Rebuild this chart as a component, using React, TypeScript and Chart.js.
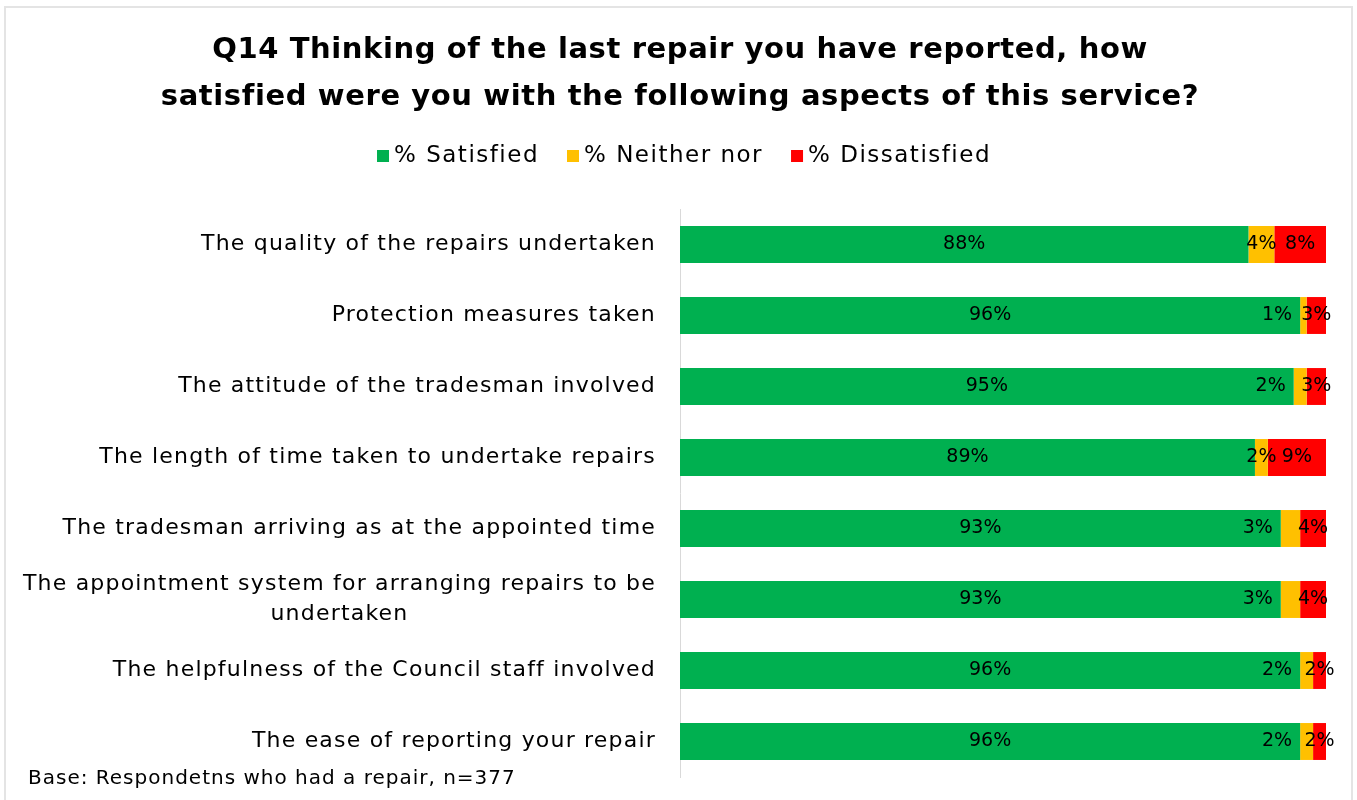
import React, { useEffect, useRef } from "react";
import { Chart, registerables } from "chart.js";

Chart.register(...registerables);

const titleLines = [
  "Q14 Thinking of the last repair you have reported, how",
  "satisfied were you with the following aspects of this service?",
];
const categories: string[][] = [
  ["The quality of the repairs undertaken"],
  ["Protection measures taken"],
  ["The attitude of the tradesman involved"],
  ["The length of time taken to undertake repairs"],
  ["The tradesman arriving as at the appointed time"],
  ["The appointment system for arranging repairs to be", "undertaken"],
  ["The helpfulness of the Council staff involved"],
  ["The ease of reporting your repair"],
];
const seriesNames = ["% Satisfied", "% Neither nor", "% Dissatisfied"];
const satisfied = [88, 96, 95, 89, 93, 93, 96, 96];
const neither = [4, 1, 2, 2, 3, 3, 2, 2];
const dissatisfied = [8, 3, 3, 9, 4, 4, 2, 2];
const colors = ["#00B050", "#FFC000", "#FF0000"];
const footnote = "Base: Respondetns who had a repair, n=377";

const FONT = "'DejaVu Sans', sans-serif";

const textPlugin = {
  id: "customText",
  afterDraw(chart: any) {
    const ctx: any = chart.ctx;
    ctx.save();
    // Title
    ctx.fillStyle = "#000";
    ctx.font = `bold 29px ${FONT}`;
    ctx.letterSpacing = "0.6px";
    ctx.textAlign = "center";
    ctx.textBaseline = "middle";
    titleLines.forEach((t, i) => ctx.fillText(t, 680, 50 + i * 47));

    // Legend
    ctx.font = `23px ${FONT}`;
    ctx.letterSpacing = "1.5px";
    const box = 12;
    const gapBox = 5;
    const gapItem = 28;
    const widths = seriesNames.map((n) => ctx.measureText(n).width);
    const total = widths.reduce((a, b) => a + b, 0) + seriesNames.length * (box + gapBox) + gapItem * (seriesNames.length - 1);
    let x = 684 - total / 2;
    const ly = 156;
    ctx.textAlign = "left";
    seriesNames.forEach((n, i) => {
      ctx.fillStyle = colors[i];
      ctx.fillRect(x, ly - box / 2, box, box);
      x += box + gapBox;
      ctx.fillStyle = "#000";
      ctx.fillText(n, x, ly);
      x += widths[i] + gapItem;
    });

    // Category labels
    const yScale = chart.scales.y;
    ctx.font = `22px ${FONT}`;
    ctx.letterSpacing = "1.2px";
    ctx.fillStyle = "#000";
    categories.forEach((lines, i) => {
      const cy = yScale.getPixelForValue(i);
      const ws = lines.map((l: string) => ctx.measureText(l).width);
      const maxW = Math.max(...ws);
      const right = chart.chartArea.left - 24;
      const lh = 30;
      lines.forEach((l, j) => {
        const y = cy + (j - (lines.length - 1) / 2) * lh;
        ctx.textAlign = "center";
        ctx.fillText(l, right - maxW / 2, y);
      });
    });

    // Footnote
    ctx.font = `20px ${FONT}`;
    ctx.letterSpacing = "1px";
    ctx.textAlign = "left";
    ctx.fillText(footnote, 28, 779);
    ctx.restore();
  },
  afterDatasetsDraw(chart: any) {
    const ctx: any = chart.ctx;
    ctx.save();
    ctx.font = `19px ${FONT}`;
    ctx.letterSpacing = "0px";
    ctx.fillStyle = "#000";
    ctx.textBaseline = "middle";
    chart.data.datasets.forEach((ds: any, di: number) => {
      const meta = chart.getDatasetMeta(di);
      meta.data.forEach((bar: any, i: number) => {
        const left = Math.min(bar.base, bar.x);
        const right = Math.max(bar.base, bar.x);
        const label = ds.data[i] + "%";
        if (di === 1 && dissatisfied[i] < 8) {
          ctx.textAlign = "right";
          ctx.fillText(label, left - 8, bar.y);
        } else {
          ctx.textAlign = "center";
          ctx.fillText(label, (left + right) / 2, bar.y);
        }
      });
    });
    ctx.restore();
  },
};

export default function App() {
  const ref = useRef<HTMLCanvasElement | null>(null);
  useEffect(() => {
    if (!ref.current) return;
    const chart = new Chart(ref.current, {
      type: "bar",
      data: {
        labels: categories.map((c) => c.join(" ")),
        datasets: [
          { label: seriesNames[0], data: satisfied, backgroundColor: colors[0] },
          { label: seriesNames[1], data: neither, backgroundColor: colors[1] },
          { label: seriesNames[2], data: dissatisfied, backgroundColor: colors[2] },
        ],
      },
      options: {
        indexAxis: "y",
        responsive: false,
        animation: false,
        events: [],
        layout: { padding: { left: 680, right: 31, top: 209, bottom: 23 } },
        datasets: { bar: { barPercentage: 0.52, categoryPercentage: 1 } },
        plugins: { legend: { display: false }, title: { display: false }, tooltip: { enabled: false } },
        scales: {
          x: { stacked: true, min: 0, max: 100, display: false },
          y: {
            stacked: true,
            grid: { display: false, drawTicks: false },
            ticks: { display: false },
            border: { display: true, color: "#d9d9d9", width: 1 },
            afterFit: (s: any) => {
              s.width = 0;
            },
          },
        },
      },
      plugins: [textPlugin],
    });
    return () => chart.destroy();
  }, []);
  return (
    <div style={{ position: "fixed", left: 0, top: 0, width: 1357, height: 800, background: "#fff", overflow: "hidden" }}>
      <canvas ref={ref} width={1357} height={800} style={{ position: "absolute", left: 0, top: 0 }} />
      <div
        style={{
          position: "absolute",
          left: 4,
          top: 6,
          width: 1345,
          height: 900,
          border: "2px solid #e4e4e4",
          pointerEvents: "none",
        }}
      />
    </div>
  );
}
